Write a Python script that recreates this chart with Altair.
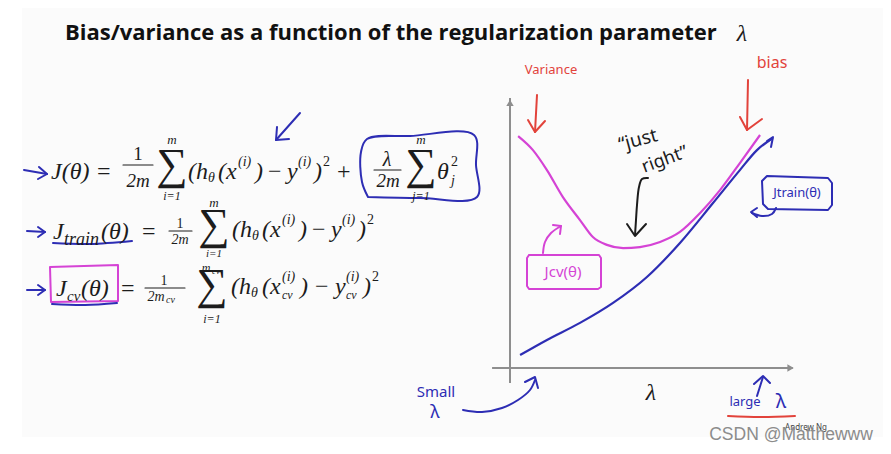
import altair as alt
import pandas as pd

BLUE = "#2d2db4"
MAGENTA = "#d543d5"
RED = "#e2433b"
INK = "#1c1c1c"
AXIS = "#8e8e8e"

# ---------------- plotted curves: lambda (0..10) vs cost (0..10) ----------------
cv_lambda = [0.29, 0.82, 1.32, 1.89, 2.5, 2.96, 3.46, 4.04, 4.64, 5.36, 6.07, 6.79, 7.5, 8.21, 8.93]
cv_cost = [8.59, 8.07, 7.33, 6.33, 5.48, 4.85, 4.56, 4.44, 4.48, 4.67, 5.04, 5.74, 6.59, 7.59, 8.63]
train_lambda = [0.36, 1.32, 2.5, 3.68, 4.89, 6.07, 7.25, 8.21, 8.82, 9.39]
train_cost = [0.48, 1.04, 1.67, 2.41, 3.37, 4.63, 6.11, 7.33, 8.07, 8.52]
axis_id = ["y", "y", "x", "x"]
axis_lambda = [0.0, 0.0, -0.64, 10.1]
axis_cost = [-0.56, 10.0, 0.0, 0.0]
head_lambda = [0.0, 10.02]
head_cost = [9.82, 0.0]
head_shape = ["triangle-up", "triangle-right"]

# ---------------- slide texts: (group, text, x, y, size, colour, angle) ----------------
texts = [
    ("title", "Bias/variance as a function of the regularization parameter", 65, 33, 22, "#111111", 0),
    ("cit", "λ", 742, 34, 24, INK, 0),
    # J(theta) = 1/2m sum (h(x)-y)^2 + lambda/2m sum theta^2
    ("it", "J(θ)", 51, 172, 24, INK, 0),
    ("rm", "=", 97, 172, 24, INK, 0),
    ("crm", "1", 138, 154, 19, INK, 0),
    ("cit", "2m", 138, 181, 19, INK, 0),
    ("crm", "∑", 172, 166, 44, INK, 0),
    ("cit", "m", 172, 140, 13, INK, 0),
    ("cit", "i=1", 172, 196, 12, INK, 0),
    ("it", "(h", 188, 172, 24, INK, 0),
    ("it", "θ", 208, 178, 14, INK, 0),
    ("it", "(x", 218, 172, 24, INK, 0),
    ("it", "(i)", 238, 162, 14, INK, 0),
    ("it", ")", 255, 172, 24, INK, 0),
    ("rm", "−", 268, 172, 24, INK, 0),
    ("it", "y", 287, 172, 24, INK, 0),
    ("it", "(i)", 298, 162, 14, INK, 0),
    ("it", ")", 314, 172, 24, INK, 0),
    ("rm", "2", 323, 162, 14, INK, 0),
    ("rm", "+", 337, 172, 24, INK, 0),
    ("cit", "λ", 387, 160, 20, INK, 0),
    ("cit", "2m", 388, 181, 19, INK, 0),
    ("crm", "∑", 421, 166, 44, INK, 0),
    ("cit", "m", 421, 140, 13, INK, 0),
    ("cit", "j=1", 421, 196, 12, INK, 0),
    ("it", "θ", 437, 172, 24, INK, 0),
    ("rm", "2", 451, 162, 14, INK, 0),
    ("it", "j", 451, 181, 14, INK, 0),
    # J_train
    ("it", "J", 53, 232, 24, INK, 0),
    ("it", "train", 64, 240, 18, INK, 0),
    ("it", "(θ)", 101, 232, 24, INK, 0),
    ("rm", "=", 142, 232, 24, INK, 0),
    ("crm", "1", 180, 224, 14, INK, 0),
    ("cit", "2m", 180, 240, 14, INK, 0),
    ("crm", "∑", 214, 226, 44, INK, 0),
    ("cit", "m", 214, 203, 13, INK, 0),
    ("cit", "i=1", 214, 254, 11, INK, 0),
    ("it", "(h", 232, 230, 24, INK, 0),
    ("it", "θ", 252, 236, 14, INK, 0),
    ("it", "(x", 262, 230, 24, INK, 0),
    ("it", "(i)", 282, 220, 14, INK, 0),
    ("it", ")", 299, 230, 24, INK, 0),
    ("rm", "−", 312, 230, 24, INK, 0),
    ("it", "y", 331, 230, 24, INK, 0),
    ("it", "(i)", 342, 220, 14, INK, 0),
    ("it", ")", 358, 230, 24, INK, 0),
    ("rm", "2", 367, 220, 14, INK, 0),
    # J_cv
    ("it", "J", 56, 289, 24, INK, 0),
    ("it", "cv", 67, 296, 15, INK, 0),
    ("it", "(θ)", 81, 289, 24, INK, 0),
    ("rm", "=", 121, 289, 24, INK, 0),
    ("crm", "1", 164, 281, 14, INK, 0),
    ("cit", "2m", 156, 297, 14, INK, 0),
    ("it", "cv", 166, 300, 10, INK, 0),
    ("crm", "∑", 212, 286, 44, INK, 0),
    ("cit", "m", 206, 268, 12, INK, 0),
    ("it", "cv", 212, 271, 9, INK, 0),
    ("cit", "i=1", 212, 319, 12, INK, 0),
    ("it", "(h", 231, 287, 24, INK, 0),
    ("it", "θ", 251, 293, 14, INK, 0),
    ("it", "(x", 262, 287, 24, INK, 0),
    ("it", "(i)", 282, 277, 14, INK, 0),
    ("it", "cv", 282, 295, 12, INK, 0),
    ("it", ")", 300, 287, 24, INK, 0),
    ("rm", "−", 315, 287, 24, INK, 0),
    ("it", "y", 335, 287, 24, INK, 0),
    ("it", "(i)", 346, 277, 14, INK, 0),
    ("it", "cv", 346, 295, 12, INK, 0),
    ("it", ")", 363, 287, 24, INK, 0),
    ("rm", "2", 372, 277, 14, INK, 0),
    # handwritten notes
    ("hand", "Variance", 551, 70, 13, RED, 0),
    ("hand", "bias", 772, 63, 16, RED, 0),
    ("hand", "\u201cjust", 638, 140, 19, INK, 345),
    ("hand", "right\u201d", 665, 160, 18, INK, 340),
    ("hand", "Jcv(θ)", 563, 272, 15, MAGENTA, 0),
    ("hand", "Jtrain(θ)", 797, 193, 13, BLUE, 0),
    ("hand", "Small", 436, 392, 15, BLUE, 0),
    ("hand", "λ", 435, 413, 18, BLUE, 0),
    ("hand", "large", 745, 402, 13, BLUE, 0),
    ("hand", "λ", 781, 402, 20, BLUE, 0),
    ("cit", "λ", 651, 393, 24, INK, 0),
    ("hand", "Andrew Ng", 806, 428, 8, "#444444", 0),
    ("mark", "CSDN @Matthewww", 791, 435, 17.5, "#8c8c8c", 0),
]

# ---------------- hand-drawn strokes: (group, colour, points) ----------------
strokes = [
    ("lin", BLUE, [(24, 170), (47, 174)]),
    ("lin", BLUE, [(39, 167), (47, 174), (38, 179)]),
    ("lin", BLUE, [(27, 231), (45, 232)]),
    ("lin", BLUE, [(38, 227), (45, 232), (38, 237)]),
    ("lin", BLUE, [(27, 290), (45, 290)]),
    ("lin", BLUE, [(38, 285), (45, 290), (38, 295)]),
    ("lin", BLUE, [(300, 113), (276, 140)]),
    ("lin", BLUE, [(277, 127), (276, 140), (289, 139)]),
    ("smooth", BLUE, [(368, 197), (362, 182), (361, 152), (367, 139), (410, 136), (474, 135), (476, 165), (477, 197), (420, 198), (368, 197)]),
    ("smooth", BLUE, [(53, 243), (90, 244), (132, 241)]),
    ("lin", MAGENTA, [(50, 267), (118, 265), (118, 301), (51, 302), (50, 267)]),
    ("smooth", BLUE, [(52, 304), (85, 305), (117, 303)]),
    ("lin", RED, [(537, 95), (535, 132)]),
    ("lin", RED, [(528, 120), (535, 132), (545, 121)]),
    ("lin", RED, [(748, 80), (747, 130)]),
    ("lin", RED, [(740, 117), (747, 130), (762, 119)]),
    ("smooth", INK, [(648, 178), (642, 179), (639, 187), (637, 205), (636, 220), (635, 235)]),
    ("lin", INK, [(627, 224), (635, 236), (646, 224)]),
    ("lin", MAGENTA, [(529, 255), (599, 255), (601, 258), (601, 287), (598, 289), (529, 289), (527, 286), (527, 258), (529, 255)]),
    ("smooth", MAGENTA, [(543, 253), (545, 242), (551, 233), (561, 226)]),
    ("lin", MAGENTA, [(553, 225), (561, 226), (560, 234)]),
    ("lin", BLUE, [(767, 176), (828, 178), (832, 183), (832, 205), (828, 210), (768, 209), (763, 204), (762, 181), (767, 176)]),
    ("smooth", BLUE, [(776, 208), (772, 214), (762, 216), (752, 213)]),
    ("lin", BLUE, [(757, 208), (751, 212), (757, 217)]),
    ("lin", BLUE, [(767, 141), (773, 137), (771, 147)]),
    ("smooth", BLUE, [(463, 410), (482, 412), (502, 408), (518, 400), (530, 390), (535, 380)]),
    ("lin", BLUE, [(525, 382), (535, 377), (538, 388)]),
    ("lin", BLUE, [(757, 396), (763, 377)]),
    ("lin", BLUE, [(754, 384), (763, 376), (770, 383)]),
    ("smooth", RED, [(728, 416), (760, 417), (795, 416)]),
    # fraction bars
    ("bar", INK, [(123, 165), (153, 165)]),
    ("bar", INK, [(374, 170), (401, 170)]),
    ("bar", INK, [(169, 231), (192, 231)]),
    ("bar", INK, [(145, 288), (185, 288)]),
]

slide_box = {"x": [22], "x2": [883], "y": [8], "y2": [437]}

# ---------------- build tables ----------------
XS = alt.Scale(domain=[8, 883], nice=False, zero=False)
YS = alt.Scale(domain=[8, 444], nice=False, zero=False, reverse=True)


def X(f="px"):
    return alt.X(f"{f}:Q", scale=XS, axis=None)


def Y(f="py"):
    return alt.Y(f"{f}:Q", scale=YS, axis=None)


curves = pd.DataFrame(
    {"series": ["cv"] * len(cv_lambda) + ["train"] * len(train_lambda),
     "lam": cv_lambda + train_lambda,
     "cost": cv_cost + train_cost,
     "col": [MAGENTA] * len(cv_lambda) + [BLUE] * len(train_lambda)}
)
axes_df = pd.DataFrame({"sid": axis_id, "lam": axis_lambda, "cost": axis_cost})
heads_df = pd.DataFrame({"lam": head_lambda, "cost": head_cost, "shape": head_shape})

to_canvas = dict(px="510 + 28 * datum.lam", py="368 - 27 * datum.cost")

rows = []
for sid, (grp, col, pts) in enumerate(strokes):
    for k, (x, y) in enumerate(pts):
        rows.append({"sid": sid, "k": k, "g": grp, "c": col, "px": x, "py": y})
stroke_df = pd.DataFrame(rows)

text_df = pd.DataFrame(texts, columns=["g", "t", "px", "py", "s", "c", "a"])

layers = []
layers.append(
    alt.Chart(pd.DataFrame(slide_box)).mark_rect(color="#fbfbfb").encode(
        x=X("x"), x2="x2:Q", y=Y("y"), y2="y2:Q")
)
layers.append(
    alt.Chart(axes_df).transform_calculate(**to_canvas).mark_line(color=AXIS, strokeWidth=2).encode(
        x=X(), y=Y(), detail="sid:N")
)
layers.append(
    alt.Chart(heads_df).transform_calculate(**to_canvas).mark_point(filled=True, color=AXIS, opacity=1, size=55).encode(
        x=X(), y=Y(), shape=alt.Shape("shape:N", scale=None))
)
layers.append(
    alt.Chart(curves).transform_calculate(**to_canvas).mark_line(strokeWidth=2.2, interpolate="monotone").encode(
        x=X(), y=Y(), detail="series:N", color=alt.Color("col:N", scale=None))
)

stroke_styles = {
    "lin": dict(strokeWidth=2, interpolate="linear"),
    "smooth": dict(strokeWidth=2, interpolate="catmull-rom"),
    "bar": dict(strokeWidth=1.1, interpolate="linear"),
}
for g, st in stroke_styles.items():
    layers.append(
        alt.Chart(stroke_df[stroke_df.g == g]).mark_line(strokeCap="round", strokeJoin="round", **st).encode(
            x=X(), y=Y(), detail="sid:N", order="k:Q", color=alt.Color("c:N", scale=None))
    )

text_styles = {
    "title": dict(font="Open Sans", fontWeight="bold", align="left"),
    "it": dict(font="Liberation Serif", fontStyle="italic", align="left"),
    "rm": dict(font="Liberation Serif", align="left"),
    "cit": dict(font="Liberation Serif", fontStyle="italic", align="center"),
    "crm": dict(font="Liberation Serif", align="center"),
    "hand": dict(font="Noto Sans", align="center"),
    "mark": dict(font="Liberation Sans", align="center"),
}
for g, st in text_styles.items():
    layers.append(
        alt.Chart(text_df[text_df.g == g]).mark_text(baseline="middle", **st).encode(
            x=X(), y=Y(), text="t:N",
            size=alt.Size("s:Q", scale=None),
            color=alt.Color("c:N", scale=None),
            angle=alt.Angle("a:Q", scale=None))
    )

chart = alt.layer(*layers).properties(
    width=875, height=436, padding=0,
    autosize=alt.AutoSizeParams(type="none"),
    background="white",
).configure_view(strokeWidth=0)

chart.save("out.html", embed_options={"renderer": "svg", "actions": False})
